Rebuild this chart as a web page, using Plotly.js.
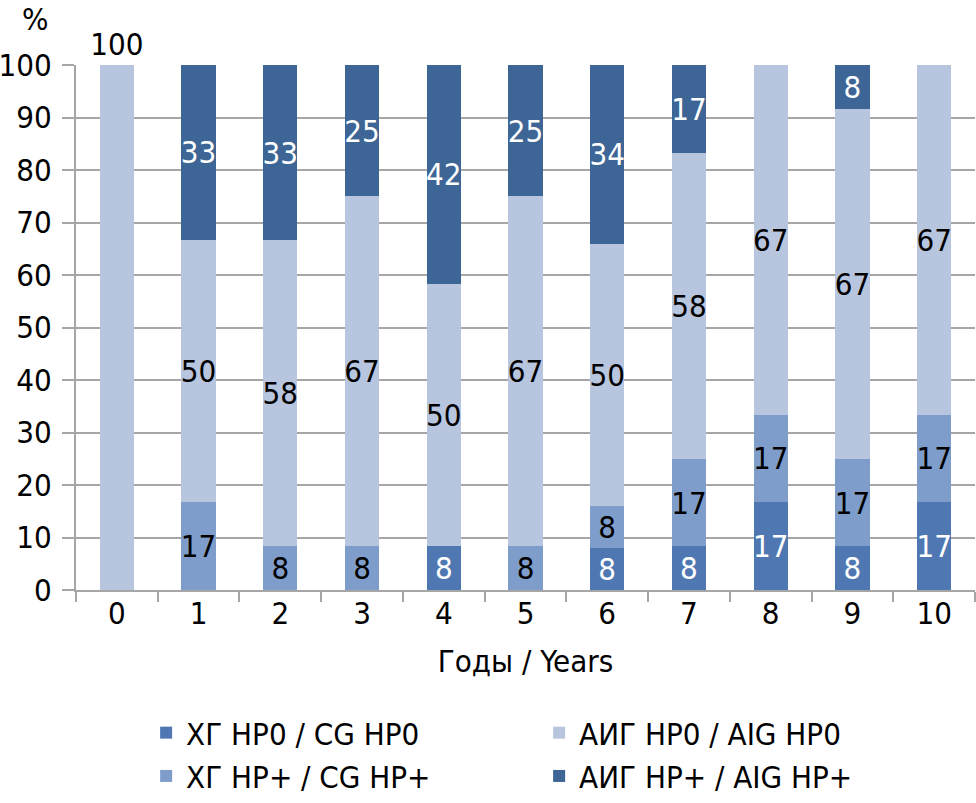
<!DOCTYPE html>
<html>
<head>
<meta charset="utf-8">
<script src="https://cdn.plot.ly/plotly-3.0.1.min.js"></script>
<style>html,body{margin:0;padding:0;background:#fff;}#chart{width:976px;height:803px;}</style>
</head>
<body>
<div id="chart"></div>
<script>
const years = ['0','1','2','3','4','5','6','7','8','9','10'];
const cgHp0  = [null, null, null, null, 8.3, null, 8, 8.3, 16.7, 8.3, 16.7];
const cgHpP  = [null, 16.7, 8.3, 8.3, null, 8.3, 8, 16.7, 16.7, 16.7, 16.7];
const aigHp0 = [100, 50, 58.3, 66.7, 50, 66.7, 50, 58.3, 66.6, 66.7, 66.6];
const aigHpP = [null, 33.3, 33.4, 25, 41.7, 25, 34, 16.7, null, 8.3, null];
const yTicks = [0,10,20,30,40,50,60,70,80,90,100];

const FONT = '"DejaVu Sans Condensed", "Liberation Sans Narrow", "Liberation Sans", sans-serif';
const FS = 31;

function mk(name, y, color, txtColor, rank, positions) {
  return {
    type: 'bar', name: name, x: years, y: y,
    marker: {color: color, line: {width: 0}},
    texttemplate: '%{y:.0f}',
    textposition: positions || 'inside',
    insidetextanchor: 'middle',
    textangle: 0,
    constraintext: 'none',
    cliponaxis: false,
    insidetextfont: {family: FONT, size: FS, color: txtColor},
    outsidetextfont: {family: FONT, size: FS, color: '#000'},
    legendrank: rank,
    hoverinfo: 'skip'
  };
}

const aigPos = aigHp0.map((v, i) => i === 0 ? 'outside' : 'inside');

const data = [
  mk('ХГ HP0 / CG HP0', cgHp0, '#4f78b3', '#fff', 1),
  mk('ХГ HP+ / CG HP+', cgHpP, '#7f9dca', '#000', 3),
  mk('АИГ HP0 / AIG HP0', aigHp0, '#b8c5de', '#000', 2, aigPos),
  mk('АИГ HP+ / AIG HP+', aigHpP, '#3d6595', '#fff', 4)
];

const layout = {
  width: 976, height: 803,
  margin: {l: 76, r: 1, t: 65, b: 212},
  paper_bgcolor: '#fff', plot_bgcolor: '#fff',
  barmode: 'stack',
  bargap: 0.58,
  font: {family: FONT, size: FS, color: '#000'},
  showlegend: true,
  xaxis: {
    type: 'category',
    tickvals: years, ticktext: years,
    showgrid: false,
    showline: true, linecolor: '#a6a6a6', linewidth: 2,
    ticks: 'outside', tickson: 'boundaries', ticklen: 10, tickwidth: 2, tickcolor: '#a6a6a6',
    ticklabelstandoff: -5,
    tickfont: {family: FONT, size: FS, color: '#000'},
    title: {text: 'Годы / Years', font: {family: FONT, size: FS, color: '#000'}, standoff: 20},
    fixedrange: true
  },
  yaxis: {
    range: [0, 100],
    tickvals: yTicks,
    showgrid: true, gridcolor: '#a6a6a6', gridwidth: 2,
    showline: true, linecolor: '#a6a6a6', linewidth: 2,
    ticks: 'outside', ticklen: 12, tickwidth: 2, tickcolor: '#a6a6a6',
    ticklabelstandoff: 4,
    tickfont: {family: FONT, size: FS, color: '#000'},
    zeroline: false,
    fixedrange: true
  },
  legend: {
    orientation: 'h',
    x: 0.078, xanchor: 'left',
    y: -0.219, yanchor: 'top',
    traceorder: 'normal',
    entrywidth: 348, entrywidthmode: 'pixels',
    font: {family: FONT, size: FS, color: '#000'},
    bgcolor: 'rgba(0,0,0,0)'
  },
  annotations: [{
    text: '%', xref: 'paper', yref: 'paper', x: -0.045, y: 1.0, yshift: 46,
    xanchor: 'center', yanchor: 'middle', showarrow: false,
    font: {family: FONT, size: FS, color: '#000'}
  }]
};

Plotly.newPlot('chart', data, layout, {displayModeBar: false, staticPlot: true});
</script>
</body>
</html>
